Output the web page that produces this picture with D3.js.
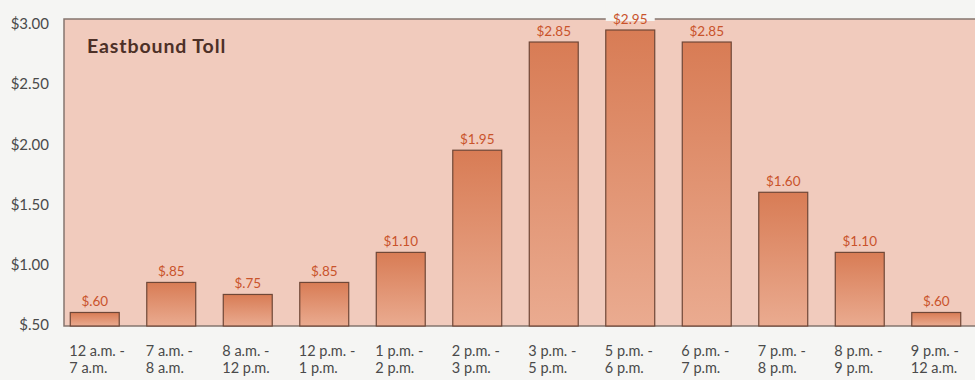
<!DOCTYPE html>
<html>
<head>
<meta charset="utf-8">
<script src="https://cdn.jsdelivr.net/npm/d3@7"></script>
<style>
  body { margin: 0; background: #f5f5f3; }
  svg { display: block; font-family: Lato, "DejaVu Sans", sans-serif; }
</style>
</head>
<body>
<svg id="graph"></svg>
<script>
// time periods (two lines each) and toll in dollars
let periods1 = ["12 a.m. -","7 a.m. -","8 a.m. -","12 p.m. -","1 p.m. -","2 p.m. -","3 p.m. -","5 p.m. -","6 p.m. -","7 p.m. -","8 p.m. -","9 p.m. -"]
let periods2 = ["7 a.m.","8 a.m.","12 p.m.","1 p.m.","2 p.m.","3 p.m.","5 p.m.","6 p.m.","7 p.m.","8 p.m.","9 p.m.","12 a.m."]
let tolls = [0.60,0.85,0.75,0.85,1.10,1.95,2.85,2.95,2.85,1.60,1.10,0.60]
let yticks = [0.5,1.0,1.5,2.0,2.5,3.0]
let title = "Eastbound Toll"

let w = 975
let h = 380

// plot frame
let leftmargin = 64
let topmargin = 19
let bottomline = 326
let bg = "#f5f5f3"

let data = tolls.map((v,i)=>({id:i, toll:v, l1:periods1[i], l2:periods2[i]}))

let svg = d3.select("#graph")
    .attr("width",w)
    .attr("height",h)

let xscale = d3.scaleBand()
    .domain(data.map(d=>d.id))
    .range([56.5,974.5])
    .paddingInner(0.36)
    .paddingOuter(0.18)

let yscale = d3.scaleLinear()
    .domain([0.5,3.0])
    .range([324.5,24])

let fmt = v => v < 1 ? "$" + d3.format(".2f")(v).slice(1) : "$" + d3.format(".2f")(v)

let defs = svg.append("defs")
let grad = defs.append("linearGradient")
    .attr("id","bargrad")
    .attr("x1",0).attr("y1",0).attr("x2",0).attr("y2",1)
grad.append("stop").attr("offset","0%").attr("stop-color","#d87c55")
grad.append("stop").attr("offset","100%").attr("stop-color","#eaab90")

// background panel
svg.append("rect")
    .attr("x",leftmargin)
    .attr("y",topmargin)
    .attr("width",w-leftmargin+2)
    .attr("height",bottomline-topmargin)
    .style("fill","#f1cbbd")
    .style("stroke","#85766f")
    .style("stroke-width",1.5)

svg.append("text")
    .text(title)
    .attr("x",87)
    .attr("y",53)
    .style("font-size","19.5px")
    .style("font-weight","bold")
    .style("letter-spacing","0.9px")
    .style("fill","#4d3027")

// y axis labels
let yaxis = d3.axisLeft(yscale).tickValues(yticks).tickFormat(fmt).tickSize(0).tickPadding(15)
let yaxisg = svg.append("g")
    .attr("transform",`translate(${leftmargin},0)`)
    .call(yaxis)
yaxisg.select(".domain").remove()
yaxisg.selectAll("text")
    .style("font-size","15px")
    .style("font-family","Lato, sans-serif")
    .style("fill","#4a4a4a")

let bars = svg.append("g")
    .selectAll("g")
    .data(data)
    .enter().append("g")
    .attr("transform",d=>`translate(${xscale(d.id)},0)`)

bars.append("rect")
    .attr("y",d=>yscale(d.toll))
    .attr("width",xscale.bandwidth())
    .attr("height",d=>bottomline-yscale(d.toll))
    .style("fill","url(#bargrad)")
    .style("stroke","#6f4737")
    .style("stroke-width",1.2)

// value labels, with a light knockout where they cross the frame
bars.filter(d=>yscale(d.toll)-19 < topmargin)
    .append("rect")
    .attr("x",0)
    .attr("y",0)
    .attr("width",xscale.bandwidth())
    .attr("height",d=>yscale(d.toll)-9)
    .style("fill",bg)

bars.append("text")
    .text(d=>fmt(d.toll))
    .attr("x",xscale.bandwidth()/2)
    .attr("y",d=>yscale(d.toll)-6)
    .attr("text-anchor","middle")
    .style("font-size","13.5px")
    .style("fill","#c9532b")

// x labels, two lines each
let xl = bars.append("text")
    .attr("x",-1)
    .attr("y",356)
    .style("font-size","14.5px")
    .style("fill","#4a4a4a")
xl.append("tspan").text(d=>d.l1)
xl.append("tspan").attr("x",-1).attr("dy",17).text(d=>d.l2)
</script>
</body>
</html>
